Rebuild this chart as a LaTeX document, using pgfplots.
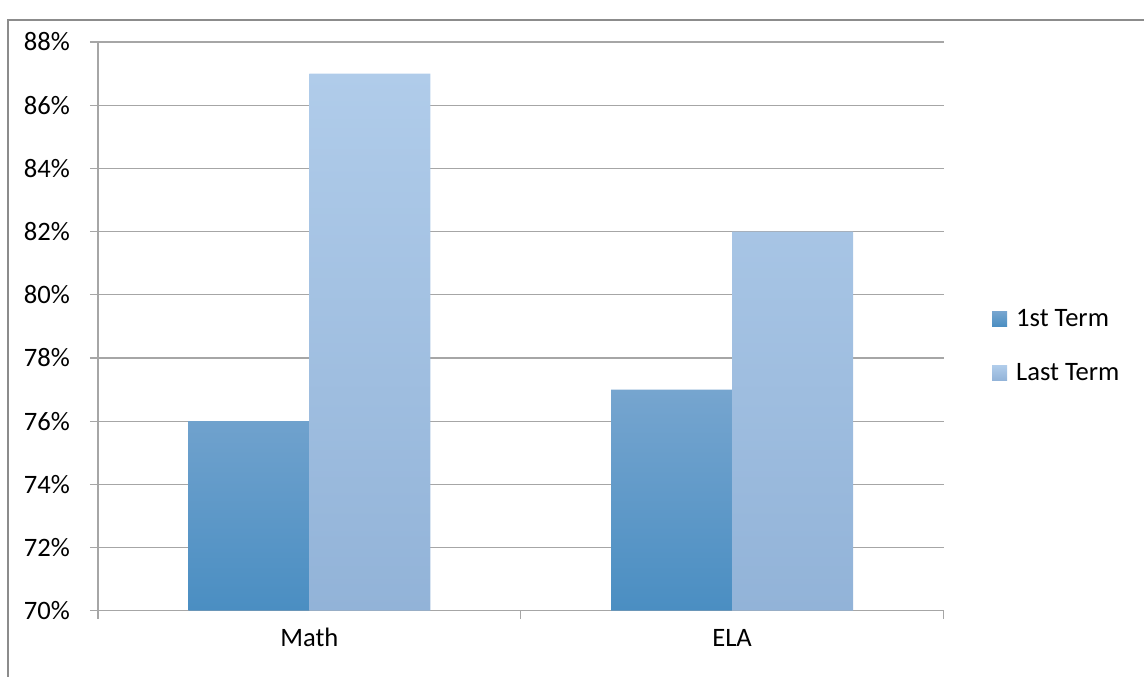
\documentclass[border=0pt]{standalone}
\usepackage{fontspec}
\setmainfont{Carlito}
\usepackage{pgfplots}
\pgfplotsset{compat=1.18}

\definecolor{gridgray}{HTML}{A6A6A6}
\definecolor{framegray}{HTML}{8C8C8C}
\definecolor{firsttop}{HTML}{76A5CF}
\definecolor{firstbot}{HTML}{4A8EC2}
\definecolor{lasttop}{HTML}{B0CCEA}
\definecolor{lastbot}{HTML}{92B3D8}

\begin{document}
\begin{tikzpicture}
% page size 1145 x 677 px, 1 px = 0.5pt
\path (0pt,0pt) rectangle (572.5pt,338.5pt);
\draw[framegray, line width=0.6pt] (4pt,0pt) -- (4pt,328.5pt) -- (572.5pt,328.5pt);
\begin{axis}[
    at={(49pt,33pt)}, anchor=origin,
    scale only axis,
    width=423pt, height=284.5pt,
    xmin=0.5, xmax=2.5,
    ymin=70, ymax=88,
    ytick={70,72,...,88},
    yticklabel={\pgfmathprintnumber{\tick}\%},
    yticklabel style={xshift=-6.5pt},
    xtick={0.5,1.5,2.5},
    xticklabels={Math,ELA},
    x tick label as interval,
    xticklabel style={anchor=north, text height=1.6ex, text depth=0.3ex, yshift=-3pt},
    axis x line*=bottom, axis y line*=left,
    axis line style={gridgray, line width=0.6pt},
    tick style={gridgray, line width=0.6pt},
    tick align=outside,
    major tick length=4pt,
    ymajorgrids,
    major grid style={gridgray, line width=0.6pt},
    font=\fontsize{13.3}{15}\selectfont,
    /pgf/number format/assume math mode=true,
    ybar=0pt, bar width=0.286,
    legend style={at={(1.05,0.465)}, anchor=west, draw=none, fill=none,
        row sep=13pt, font=\fontsize{13.3}{15}\selectfont},
    legend cell align=left,
    legend image code/.code={
        \fill[#1] (0pt,-3.7pt) rectangle (7.5pt,3.8pt);
        \path (0pt,0pt) -- (10pt,0pt);},
]
\addplot[draw=none, top color=firsttop, bottom color=firstbot]
    coordinates {(1,76) (2,77)};
\addplot[draw=none, top color=lasttop, bottom color=lastbot]
    coordinates {(1,87) (2,82)};
\legend{1st Term, Last Term}
\end{axis}
\end{tikzpicture}
\end{document}
